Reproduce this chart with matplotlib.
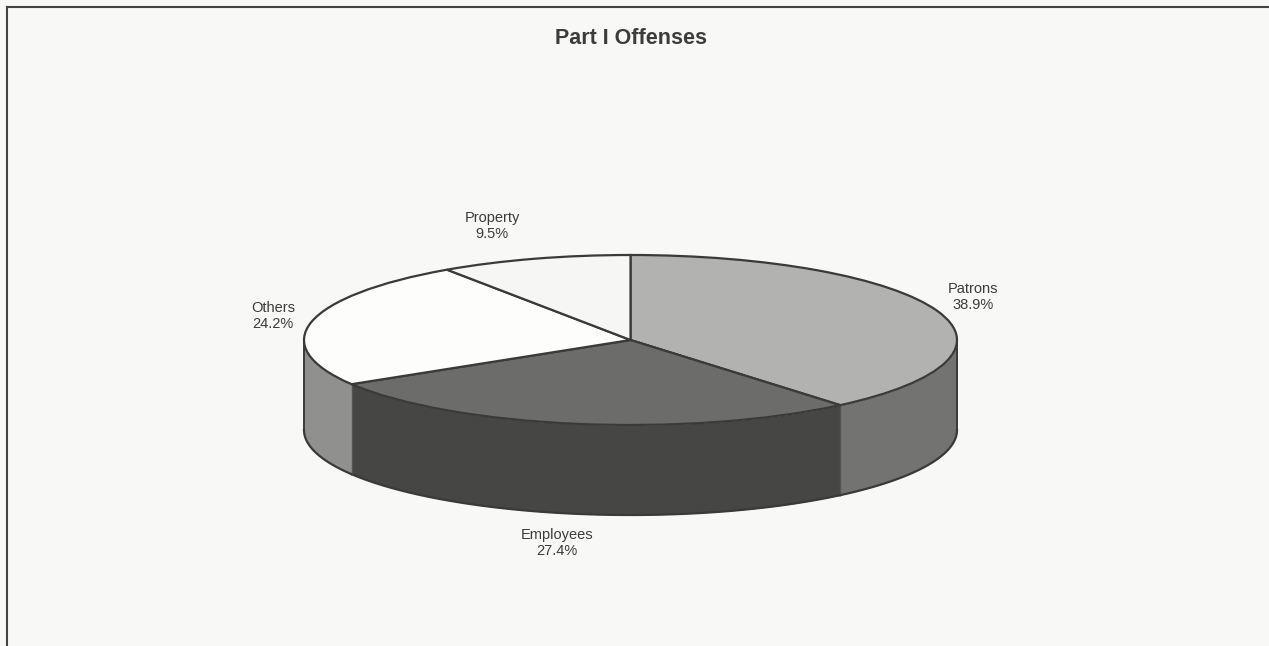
import numpy as np
import matplotlib
matplotlib.use("Agg")
import matplotlib.pyplot as plt

plt.rcParams['font.family'] = ['Liberation Sans', 'DejaVu Sans']

labels = ['Patrons', 'Employees', 'Others', 'Property']
shares = [38.9, 27.4, 24.2, 9.5]
top_colors = ['#b2b2b0', '#6c6c6a', '#fdfdfb', '#f6f6f4']
side_colors = ['#737371', '#464644', '#90908e', '#90908e']

W, H = 1269, 646
EDGE = '#3a3a3a'
TEXT = '#3c3c3c'
BG = '#f8f8f6'

fig = plt.figure(figsize=(W / 100, H / 100), dpi=100, facecolor=BG)

# pie box in pixels: ellipse 304-957 wide, 255-425 tall, wall 90 deep
left, right, top, bottom = 304, 957, 255, 515
rx = (right - left) / 2
ry = 85
depth = (bottom - top - 2 * ry) / ry

ax = fig.add_axes([left / W, 1 - bottom / H, (right - left) / W, (bottom - top) / H])

# side wall first, only the front half (angles below 0) shows
angle = 90.0
for share, col in zip(shares, side_colors):
    end = angle - share * 3.6
    lo, hi = max(end, -180), min(angle, 0)
    if lo < hi:
        t = np.radians(np.linspace(lo, hi, 120))
        ax.fill_between(np.cos(t), np.sin(t), np.sin(t) - depth, color=col, lw=0, zorder=1)
        ax.plot(np.cos(t), np.sin(t) - depth, color=EDGE, lw=1.6, zorder=2)
        if lo > -180:
            x0 = np.cos(t[0])
            ax.plot([x0, x0], [np.sin(t[0]), np.sin(t[0]) - depth], color='#555553', lw=1, zorder=2)
    angle = end

ax.plot([-1, -1], [0, -depth], color=EDGE, lw=1.4, zorder=2)
ax.plot([1, 1], [0, -depth], color=EDGE, lw=1.4, zorder=2)

ax.pie(shares, colors=top_colors, startangle=90, counterclock=False, radius=1,
       wedgeprops=dict(edgecolor=EDGE, linewidth=1.6, zorder=3))

ax.set_aspect('auto')
ax.set_xlim(-1, 1)
ax.set_ylim(-1 - depth, 1)
ax.axis('off')
for art in ax.patches + ax.lines + ax.collections:
    art.set_clip_on(False)

# frame of the scanned page: top and left only
fig.add_artist(plt.Line2D([7 / W, 1], [1 - 7 / H, 1 - 7 / H], color='#444444', lw=1.5))
fig.add_artist(plt.Line2D([7 / W, 7 / W], [0, 1 - 7 / H], color='#444444', lw=1.5))

fig.text(631 / W, 1 - 39 / H, 'Part I Offenses', fontsize=15.5, fontweight='bold',
         color=TEXT, ha='center', va='center')

label_pos = {'Patrons': (973, 297), 'Employees': (557, 543), 'Others': (273, 316), 'Property': (492, 226)}
for name, share in zip(labels, shares):
    px, py = label_pos[name]
    fig.text(px / W, 1 - py / H, f'{name}\n{share:.1f}%', fontsize=10.5, color=TEXT,
             ha='center', va='center', linespacing=1.25)

fig.savefig('out.png', dpi=100, facecolor=BG)
